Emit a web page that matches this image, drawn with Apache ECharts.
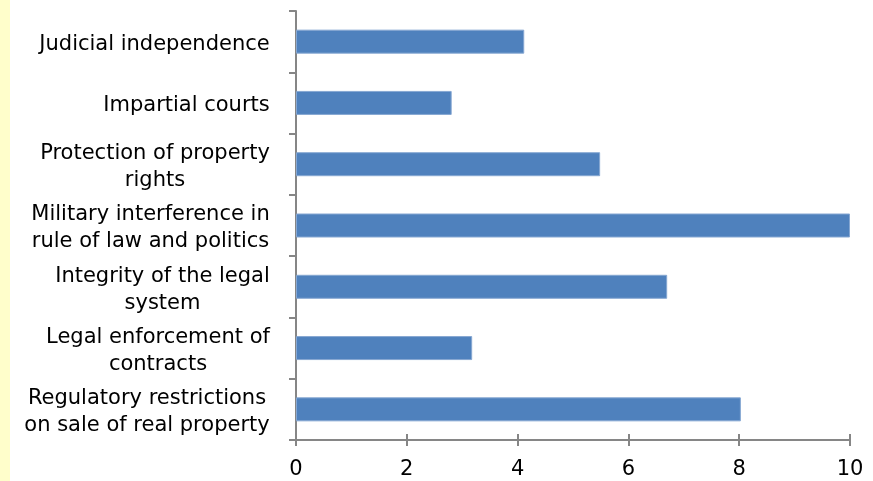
<!DOCTYPE html>
<html>
<head>
<meta charset="utf-8">
<script src="https://cdn.jsdelivr.net/npm/echarts@6/dist/echarts.min.js"></script>
<style>
    html, body { margin: 0; padding: 0; background: #ffffff; }
    #chart { width: 873px; height: 481px; }
</style>
</head>
<body>
<div id="chart"></div>
<script>
// categories top to bottom
var categories = [
    'Judicial independence',
    'Impartial courts',
    'Protection of property\nrights',
    'Military interference in\nrule of law and politics',
    'Integrity of the legal\nsystem',
    'Legal enforcement of\ncontracts',
    'Regulatory restrictions\non sale of real property'
];
var values = [4.12, 2.81, 5.49, 10.0, 6.70, 3.18, 8.03];
var xTicks = [0, 2, 4, 6, 8, 10];

var labelSize = 21;

// width of the longest line of each label, so lines can be centred in their block
var ctx = document.createElement('canvas').getContext('2d');
ctx.font = labelSize + 'px "DejaVu Sans"';
var rich = {};
for (var i = 0; i < categories.length; i++) {
    var lines = categories[i].split('\n');
    var w = 0;
    for (var j = 0; j < lines.length; j++) {
        w = Math.max(w, ctx.measureText(lines[j]).width);
    }
    rich['c' + i] = {
        width: Math.ceil(w),
        align: 'center',
        fontFamily: 'DejaVu Sans',
        fontSize: labelSize,
        lineHeight: 27,
        color: '#000000'
    };
}

var myChart = echarts.init(document.getElementById('chart'));
var option = {
    animation: false,
    backgroundColor: '#ffffff',
    graphic: [{
        type: 'rect',
        left: 0,
        top: 0,
        shape: { width: 10, height: 481 },
        style: { fill: '#FFFECB' },
        silent: true
    }],
    grid: { left: 296, right: 23, top: 11, bottom: 41 },
    xAxis: [{
        type: 'value',
        min: xTicks[0],
        max: xTicks[xTicks.length - 1],
        interval: 2,
        axisLine: { show: true, lineStyle: { color: '#868686', width: 2 } },
        axisTick: { show: true, length: 6, lineStyle: { color: '#868686', width: 2 } },
        axisLabel: {
            margin: 19,
            fontFamily: 'DejaVu Sans',
            fontSize: 21,
            color: '#000000'
        },
        splitLine: { show: false }
    }, {
        // inner half of the crossing ticks
        type: 'value',
        position: 'bottom',
        min: xTicks[0],
        max: xTicks[xTicks.length - 1],
        interval: 2,
        axisLine: { show: false },
        axisTick: { show: true, inside: true, length: 6, lineStyle: { color: '#868686', width: 2 } },
        axisLabel: { show: false },
        splitLine: { show: false }
    }],
    yAxis: {
        type: 'category',
        data: categories,
        inverse: true,
        axisLine: { show: true, lineStyle: { color: '#868686', width: 2 } },
        axisTick: { show: true, length: 7, lineStyle: { color: '#868686', width: 2 } },
        axisLabel: {
            margin: 26,
            align: 'right',
            padding: [6, 0, 0, 0],
            formatter: function(value, index) {
                return '{c' + index + '|' + value + '}';
            },
            rich: rich
        }
    },
    series: [{
        type: 'bar',
        data: values,
        barWidth: 24,
        itemStyle: {
            color: '#4F81BD',
            borderColor: '#86A7D2',
            borderWidth: 1
        }
    }]
};
myChart.setOption(option);
</script>
</body>
</html>
